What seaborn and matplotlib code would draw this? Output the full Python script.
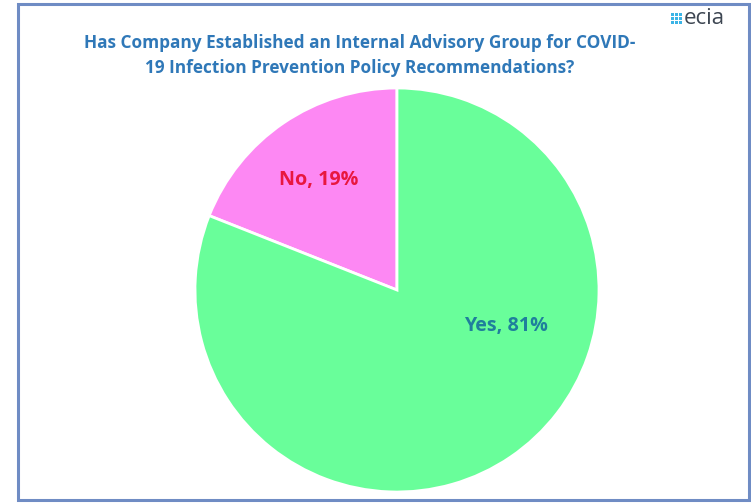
import matplotlib
matplotlib.use("Agg")
import matplotlib.pyplot as plt
from matplotlib.patches import Rectangle
import seaborn as sns

# Survey answers
categories = ["No", "Yes"]
shares = [19, 81]
slice_colors = ["#fd88f3", "#69fe9a"]
label_colors = ["#e8173f", "#1f7f9c"]
title_lines = ["Has Company Established an Internal Advisory Group for COVID-",
               "19 Infection Prevention Policy Recommendations?"]

sns.set_style("white")
plt.rcParams["font.family"] = ["Open Sans", "DejaVu Sans"]

W, H = 751, 503
fig = plt.figure(figsize=(W / 100, H / 100), dpi=100)
fig.patch.set_facecolor("white")

# Outer frame
fig.patches.append(Rectangle((18 / W, 3 / H), 731 / W, 496 / H, transform=fig.transFigure,
                             fill=False, edgecolor="#6f8cc4", linewidth=2.2))

cx, cy, r = 397, H - 290, 202
ax = fig.add_axes([(cx - r) / W, (cy - r) / H, 2 * r / W, 2 * r / H])
palette = sns.color_palette(slice_colors)
ax.pie(shares, colors=palette, startangle=90, counterclock=True,
       wedgeprops=dict(edgecolor="white", linewidth=2))
ax.set_xlim(-1, 1)
ax.set_ylim(-1, 1)
ax.set_aspect("equal")
ax.axis("off")

# Slice labels
label_pos = [(-0.39, 0.545), (0.54, -0.18)]
for cat, val, col, (lx, ly) in zip(categories, shares, label_colors, label_pos):
    ax.text(lx, ly, f"{cat}, {val}%", color=col, fontsize=14.2, fontweight="bold",
            ha="center", va="center")

# Title
fig.text(360 / W, 1 - 43 / H, title_lines[0], color="#2f78b8", fontsize=12.4,
         fontweight="bold", ha="center", va="center")
fig.text(360 / W, 1 - 68 / H, title_lines[1], color="#2f78b8", fontsize=12.4,
         fontweight="bold", ha="center", va="center")

# Logo: small tiled icon followed by the word mark
for i in range(3):
    for j in range(3):
        fig.patches.append(Rectangle(((671 + i * 4.2) / W, 1 - (12.5 + j * 4.2 + 3) / H), 3 / W, 3 / H,
                                     transform=fig.transFigure, facecolor="#3bb4e6",
                                     edgecolor="none", antialiased=False))
fig.text(684 / W, 1 - 19 / H, "ecia", color="#3d4652", fontsize=16, ha="left", va="center")

fig.savefig("out.png", dpi=100)
